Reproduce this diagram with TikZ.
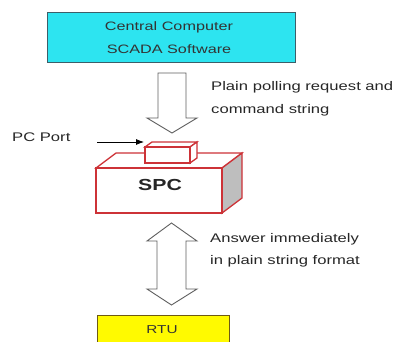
\documentclass[tikz,border=0pt]{standalone}
\usepackage{fontspec}
\setmainfont{Liberation Sans}[FakeStretch=1.33]
\usetikzlibrary{arrows.meta}
\definecolor{cyanfill}{RGB}{45,228,240}
\definecolor{cyanedge}{RGB}{60,95,105}
\definecolor{yellowfill}{RGB}{255,250,0}
\definecolor{yellowedge}{RGB}{110,90,20}
\definecolor{spcred}{RGB}{205,50,55}
\definecolor{arrowgray}{RGB}{95,95,95}
\definecolor{sidegray}{RGB}{190,190,190}
\tikzset{
  lbl/.style={font=\fontsize{12.5}{14}\selectfont, text=black!85, inner sep=0pt, anchor=west},
  boxlbl/.style={font=\fontsize{12.2}{14}\selectfont, text=black!80, inner sep=0pt},
  blockarrow/.style={draw=arrowgray, fill=white, line width=0.9pt, line join=miter},
  redline/.style={draw=spcred, line width=1.3pt, line join=miter}
}
\begin{document}
\begin{tikzpicture}[x=1pt,y=-1pt]
\useasboundingbox (0,0) rectangle (399,342);
% top box
\node[draw=cyanedge, fill=cyanfill, line width=0.9pt, minimum width=248pt, minimum height=50pt, inner sep=0pt] (central) at (171,37) {};
\node[boxlbl] (central1) at (169,27) {Central Computer};
\node[boxlbl] (central2) at (169,49) {SCADA Software};
% down block arrow
\draw[blockarrow] (158,73) -- (186,73) -- (186,118) -- (197,118) -- (172,133) -- (147,118) -- (158,118) -- cycle;
\node[lbl] (req1) at (211,87) {Plain polling request and};
\node[lbl] (req2) at (211,110) {command string};
% SPC box
\draw[redline, fill=white] (96,168) -- (116,153) -- (242,153) -- (222,168) -- cycle;
\draw[redline, fill=sidegray] (222,168) -- (242,153) -- (242,198) -- (222,213) -- cycle;
\node[draw=spcred, line width=1.3pt, fill=white, minimum width=126pt, minimum height=45pt, inner sep=0pt] (spc) at (159,190.5) {};
\node[font=\fontsize{16}{18}\selectfont\bfseries, text=black!85, inner sep=0pt] (spctext) at (160,185) {SPC};
% port box
\draw[redline, fill=white] (145,147) -- (152,142) -- (197,142) -- (190,147) -- cycle;
\draw[redline, fill=white] (190,147) -- (197,142) -- (197,158) -- (190,163) -- cycle;
\node[draw=spcred, line width=1.3pt, fill=white, minimum width=45pt, minimum height=16pt, inner sep=0pt] (port) at (167.5,155) {};
% PC Port label and arrow
\node[lbl] (pcport) at (12,137) {PC Port};
\coordinate (pcstart) at (97,142);
\coordinate (pcend) at (144,142);
\draw[-{Latex[length=8pt,width=6pt]}, line width=0.8pt] (pcstart) -- (pcend);
% double block arrow
\draw[blockarrow] (171.5,223) -- (197,241) -- (186,241) -- (186,289) -- (197,289) -- (171.5,305) -- (147,289) -- (157,289) -- (157,241) -- (147,241) -- cycle;
\node[lbl] (ans1) at (210,239) {Answer immediately};
\node[lbl] (ans2) at (210,261) {in plain string format};
% RTU box
\node[draw=yellowedge, fill=yellowfill, line width=0.9pt, minimum width=132pt, minimum height=40pt, inner sep=0pt] (rtu) at (163,335) {};
\node[font=\fontsize{11.5}{13}\selectfont, text=black!80, inner sep=0pt] (rtutext) at (162,330) {RTU};
\end{tikzpicture}
\end{document}
